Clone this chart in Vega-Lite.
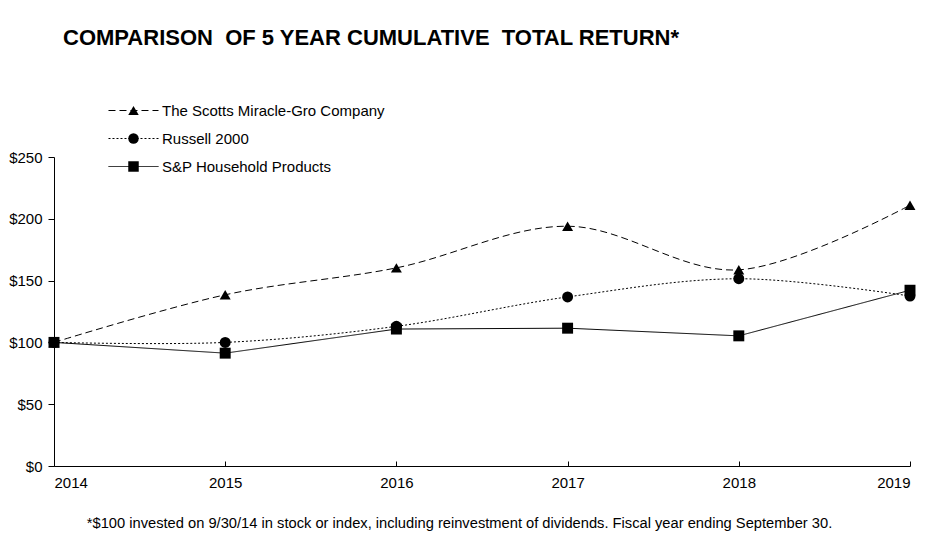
{
  "$schema": "https://vega.github.io/schema/vega-lite/v6.json",
  "width": 856,
  "height": 309,
  "autosize": {"type": "none"},
  "padding": {"left": 54, "top": 157, "right": 30, "bottom": 74},
  "background": "white",
  "config": {
    "view": {"stroke": null},
    "font": "Liberation Sans",
    "axis": {
      "grid": false,
      "domainColor": "black",
      "tickColor": "black",
      "labelColor": "black",
      "labelFont": "Liberation Sans",
      "labelFontSize": 15,
      "titleFont": "Liberation Sans",
      "titleColor": "black"
    },
    "legend": {
      "labelFont": "Liberation Sans",
      "labelFontSize": 15,
      "labelColor": "black",
      "labelLimit": 400,
      "padding": 0
    }
  },
  "title": {
    "text": "COMPARISON\u00a0 OF 5 YEAR CUMULATIVE\u00a0 TOTAL RETURN*",
    "anchor": "start",
    "frame": "group",
    "offset": 53,
    "dx": 9,
    "font": "Liberation Sans",
    "fontSize": 22,
    "fontWeight": "bold",
    "color": "black"
  },
  "data": {
    "values": [
      {"year": 2014, "series": "The Scotts Miracle-Gro Company", "value": 100},
      {"year": 2015, "series": "The Scotts Miracle-Gro Company", "value": 138.5},
      {"year": 2016, "series": "The Scotts Miracle-Gro Company", "value": 160.3},
      {"year": 2017, "series": "The Scotts Miracle-Gro Company", "value": 194},
      {"year": 2018, "series": "The Scotts Miracle-Gro Company", "value": 158.7},
      {"year": 2019, "series": "The Scotts Miracle-Gro Company", "value": 211},
      {"year": 2014, "series": "Russell 2000", "value": 100},
      {"year": 2015, "series": "Russell 2000", "value": 100},
      {"year": 2016, "series": "Russell 2000", "value": 113},
      {"year": 2017, "series": "Russell 2000", "value": 136.8},
      {"year": 2018, "series": "Russell 2000", "value": 151.5},
      {"year": 2019, "series": "Russell 2000", "value": 137.5},
      {"year": 2014, "series": "S&P Household Products", "value": 100},
      {"year": 2015, "series": "S&P Household Products", "value": 91.3},
      {"year": 2016, "series": "S&P Household Products", "value": 110.8},
      {"year": 2017, "series": "S&P Household Products", "value": 111.5},
      {"year": 2018, "series": "S&P Household Products", "value": 105.3},
      {"year": 2019, "series": "S&P Household Products", "value": 142.2}
    ]
  },
  "encoding": {
    "x": {
      "field": "year",
      "type": "quantitative",
      "scale": {"domain": [2014, 2019], "nice": false, "zero": false},
      "axis": {
        "values": [2014, 2015, 2016, 2017, 2018, 2019],
        "format": "d",
        "tickSize": -5,
        "labelPadding": 14,
        "title": "*$100 invested on 9/30/14 in stock or index, including reinvestment of dividends. Fiscal year ending September 30.",
        "titleFontSize": 14.7,
        "titleFontWeight": "normal",
        "titlePadding": 25,
        "titleX": 405
      }
    },
    "y": {
      "field": "value",
      "type": "quantitative",
      "scale": {"domain": [0, 250], "nice": false},
      "axis": {
        "values": [0, 50, 100, 150, 200, 250],
        "format": "$,.0f",
        "tickSize": 6,
        "labelPadding": 6,
        "title": null
      }
    }
  },
  "layer": [
    {
      "transform": [{"filter": "datum.series != 'S&P Household Products'"}],
      "mark": {"type": "line", "interpolate": "cardinal", "color": "black", "strokeWidth": 1},
      "encoding": {
        "strokeDash": {
          "field": "series",
          "type": "nominal",
          "scale": {
            "domain": ["The Scotts Miracle-Gro Company", "Russell 2000", "S&P Household Products"],
            "range": [[7, 4], [2, 2], [1, 0]]
          },
          "legend": {
            "title": null,
            "orient": "none",
            "legendX": 72,
            "legendY": -54,
            "symbolType": "M-4.77,0H4.77",
            "symbolSize": 110,
            "symbolFillColor": "transparent",
            "symbolStrokeColor": "black",
            "symbolStrokeWidth": 1,
            "labelOffset": 21,
            "rowPadding": 12
          }
        }
      }
    },
    {
      "transform": [{"filter": "datum.series == 'S&P Household Products'"}],
      "mark": {"type": "line", "color": "black", "strokeWidth": 1},
      "encoding": {
        "strokeDash": {"field": "series", "type": "nominal"}
      }
    },
    {
      "mark": {"type": "point", "filled": true, "color": "black", "opacity": 1, "size": 120},
      "encoding": {
        "shape": {
          "field": "series",
          "type": "nominal",
          "sort": ["The Scotts Miracle-Gro Company", "Russell 2000", "S&P Household Products"],
          "scale": {"range": ["triangle-up", "circle", "square"]},
          "legend": {
            "title": null,
            "orient": "none",
            "legendX": 72,
            "legendY": -54,
            "symbolFillColor": "black",
            "symbolStrokeColor": "black",
            "symbolSize": 110,
            "labelExpr": "''",
            "rowPadding": 11
          }
        }
      }
    }
  ]
}
